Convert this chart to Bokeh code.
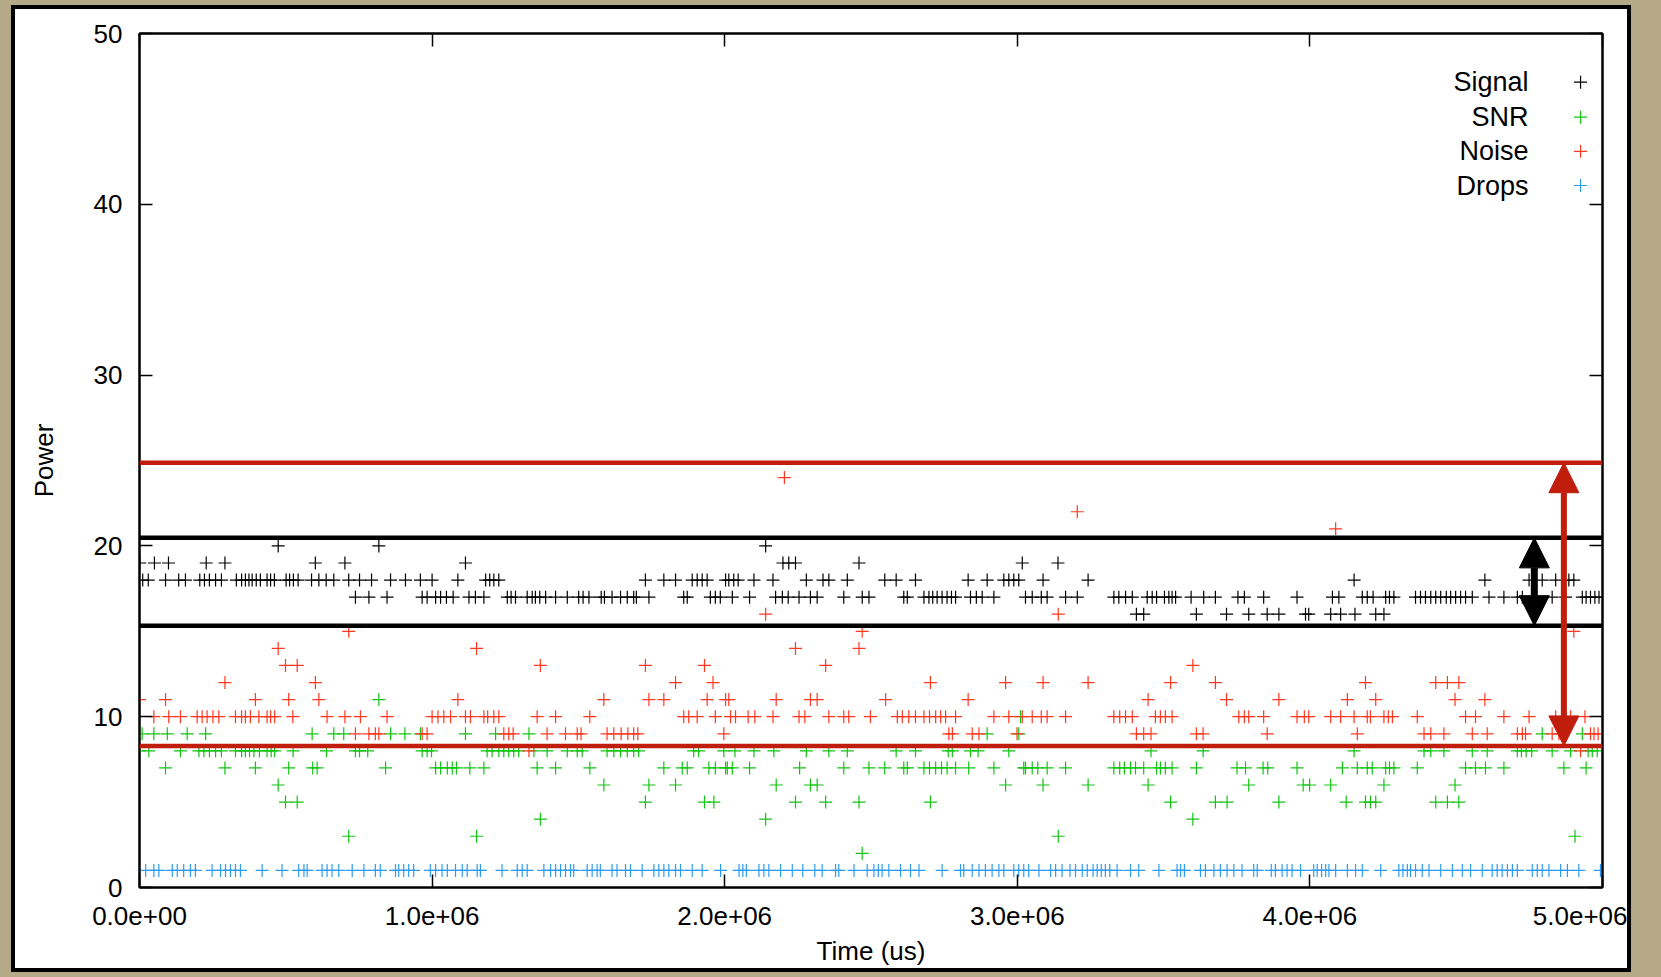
from bokeh.plotting import figure
from bokeh.models import (Range1d, LinearAxis, FixedTicker, Span, Arrow, NormalHead,
                          Label, ColumnDataSource)
from bokeh.embed import file_html
from bokeh.resources import INLINE

# ---------------- data (time in ms, converted to us for the axis) ----------------
signal_time_ms = [1, 11, 30, 51, 89, 99, 134, 157, 206, 222, 228, 239, 260, 280, 292, 331, 349, 362, 374, 385,
                  399, 413, 436, 448, 461, 474, 501, 513, 526, 542, 588, 601, 613, 638, 664, 702, 715, 738, 752,
                  784, 793, 818, 846, 858, 909, 960, 966, 983, 1000,
                  1012, 1029, 1049, 1072, 1088, 1114, 1126, 1148, 1177, 1183, 1197, 1211, 1228, 1257, 1270, 1285,
                  1325, 1342, 1353, 1368, 1388, 1422, 1462, 1501, 1516, 1536, 1578, 1589, 1615, 1644, 1667, 1689,
                  1698, 1729, 1741, 1792, 1832, 1860, 1872, 1889, 1906, 1923, 1940, 1951, 1968, 1985, 2003,
                  2014, 2026, 2031, 2046, 2085, 2100, 2140, 2165, 2174, 2197, 2199, 2217, 2219, 2242, 2254, 2279,
                  2293, 2316, 2336, 2356, 2407, 2419, 2459, 2470, 2493, 2547, 2586, 2612, 2624, 2652, 2681, 2698,
                  2711, 2726, 2743, 2760, 2775, 2789, 2832, 2840, 2860, 2880, 2897, 2920, 2954, 2971, 2988, 3005,
                  3017, 3028, 3051, 3082, 3088, 3102, 3139, 3165, 3205, 3242, 3330, 3347, 3370, 3393, 3407, 3432,
                  3444, 3461, 3476, 3503, 3518, 3529, 3541, 3594, 3612, 3637, 3677, 3715, 3754, 3776, 3791, 3842,
                  3854, 3894, 3956, 3985, 3996,
                  4071, 4077, 4099, 4105, 4151, 4154, 4179, 4196, 4216, 4225, 4253, 4259, 4272, 4287, 4361, 4378,
                  4395, 4413, 4430, 4447, 4466, 4481, 4498, 4515, 4532, 4555, 4598, 4612, 4663, 4709, 4726, 4749,
                  4794, 4828, 4840, 4874, 4885, 4902, 4931, 4944, 4959, 4974, 4988]
signal_power = [19, 18, 18, 19, 18, 19, 18, 18, 18, 18, 19, 18, 18, 18, 19, 18, 18, 18, 18, 18,
                18, 18, 18, 18, 18, 20, 18, 18, 18, 18, 18, 19, 18, 18, 18, 19, 18, 17, 18,
                17, 18, 20, 17, 18, 18, 18, 17, 17, 18,
                17, 17, 17, 17, 18, 19, 17, 17, 17, 18, 18, 18, 18, 17, 17, 17,
                17, 17, 17, 17, 17, 17, 17, 17, 17, 17, 17, 17, 17, 17, 17, 17,
                17, 18, 17, 18, 18, 17, 17, 18, 18, 18, 18, 17, 17, 17, 18,
                18, 17, 18, 18, 17, 18, 20, 18, 17, 17, 19, 17, 19, 19, 17, 18,
                17, 17, 18, 18, 17, 18, 19, 17, 17, 18, 18, 17, 17, 18, 17, 17,
                17, 17, 17, 17, 17, 17, 18, 17, 17, 17, 18, 17, 18, 18, 18, 18,
                19, 17, 17, 17, 18, 17, 19, 17, 17, 18, 17, 17, 17, 17, 16, 16,
                17, 17, 17, 17, 17, 17, 17, 17, 16, 17, 17, 16, 17, 17, 16, 17,
                16, 16, 17, 16, 16,
                16, 17, 17, 16, 18, 16, 17, 17, 17, 16, 16, 17, 17, 17, 17, 17,
                17, 17, 17, 17, 17, 17, 17, 17, 17, 17, 18, 17, 17, 17, 17, 18,
                18, 17, 18, 17, 18, 18, 17, 17, 17, 17, 17]

snr_time_ms = [0, 9, 32, 49, 89, 95, 140, 163, 203, 220, 226, 239, 260, 280, 292, 328, 349, 362, 376, 391,
               396, 410, 436, 450, 462, 474, 499, 510, 525, 539, 590, 592, 607, 639, 664, 698, 715, 738, 752,
               780, 818, 841, 858, 907, 960, 966, 983, 998,
               1012, 1029, 1052, 1069, 1083, 1114, 1129, 1152, 1177, 1188, 1205, 1217, 1228, 1245, 1262, 1279,
               1296, 1331, 1348, 1359, 1370, 1393, 1422, 1462, 1496, 1513, 1539, 1587, 1598, 1621, 1644, 1667,
               1689, 1706, 1729, 1741, 1792, 1832, 1855, 1872, 1894, 1911, 1931, 1946, 1963, 1968, 1997, 2003,
               2009, 2026, 2035, 2085, 2100, 2140, 2168, 2176, 2242, 2256, 2279, 2293, 2316, 2345, 2356, 2407,
               2419, 2459, 2470, 2493, 2547, 2586, 2612, 2624, 2652, 2681, 2700, 2703, 2721, 2741, 2760, 2764,
               2778, 2789, 2834, 2840, 2866, 2897, 2920, 2960, 2971, 3005, 3011, 3022,
               3028, 3051, 3070, 3088, 3102, 3140, 3165, 3242, 3330, 3350, 3366, 3387, 3404, 3432, 3447, 3457,
               3476, 3489, 3506, 3524, 3529, 3600, 3612, 3635, 3677, 3717, 3751, 3780, 3791, 3840, 3856, 3894,
               3956, 3977, 3999,
               4071, 4111, 4124, 4151, 4162, 4190, 4196, 4207, 4213, 4225, 4253, 4259, 4272, 4287, 4367, 4390,
               4413, 4430, 4458, 4470, 4496, 4509, 4532, 4555, 4566, 4600, 4606, 4663, 4709, 4723, 4739, 4758,
               4794, 4828, 4868, 4891, 4906, 4931, 4944, 4951, 4965, 4982]
snr_power = [8, 9, 8, 9, 7, 9, 8, 9, 8, 8, 9, 8, 8, 8, 7, 8, 8, 8, 8, 8,
             7, 8, 8, 8, 8, 6, 5, 7, 8, 5, 9, 7, 7, 8, 9, 9, 3, 8, 8,
             8, 11, 7, 9, 9, 9, 8, 8, 8,
             7, 7, 7, 7, 7, 9, 7, 3, 7, 8, 8, 9, 8, 8, 8, 8,
             8, 9, 8, 7, 4, 8, 7, 8, 8, 8, 7, 6, 8, 8, 8, 8,
             8, 8, 5, 6, 7, 6, 7, 7, 8, 8, 5, 7, 5, 7, 8, 7,
             7, 7, 8, 7, 8, 4, 8, 6, 5, 7, 8, 6, 6, 5, 8, 7,
             8, 5, 2, 7, 7, 8, 7, 7, 8, 7, 7, 5, 7, 7, 7, 8,
             8, 7, 7, 8, 8, 9, 7, 6, 8, 9, 10, 7,
             7, 7, 7, 6, 7, 3, 7, 6, 7, 7, 7, 7, 7, 7, 6, 8,
             7, 7, 7, 5, 7, 4, 7, 8, 5, 5, 7, 7, 6, 7, 7, 5,
             7, 6, 6,
             6, 7, 5, 8, 7, 5, 7, 5, 7, 5, 6, 7, 7, 7, 7, 8,
             8, 5, 8, 5, 6, 5, 7, 8, 7, 7, 8, 7, 8, 8, 8, 8,
             9, 8, 7, 8, 3, 9, 7, 8, 8, 8]

noise_time_ms = [0, 49, 89, 100, 140, 197, 214, 231, 251, 271, 292, 328, 349, 362, 379, 396, 408, 436, 448, 462,
                 474, 499, 510, 524, 539, 601, 613, 641, 702, 715, 738, 755, 784, 806, 818, 846, 966, 983, 1000,
                 1020, 1040, 1063, 1088, 1114, 1131, 1152, 1177, 1190, 1211, 1228, 1245, 1262, 1277, 1331, 1359,
                 1370, 1393, 1422, 1456, 1496, 1509, 1539, 1587, 1598, 1621, 1646, 1669, 1689, 1703, 1729, 1741,
                 1792, 1832, 1860, 1877, 1906, 1931, 1940, 1960, 1968, 1997, 2003,
                 2014, 2020, 2037, 2080, 2103, 2140, 2165, 2176, 2204, 2242, 2254, 2274, 2293, 2316, 2345, 2356,
                 2407, 2424, 2459, 2470, 2498, 2550, 2590, 2607, 2629, 2652, 2681, 2700, 2703, 2721, 2738, 2755,
                 2766, 2778, 2789, 2832, 2846, 2869, 2920, 2960, 2971, 2999,
                 3017, 3051, 3082, 3088, 3102, 3140, 3165, 3205, 3242, 3330, 3350, 3370, 3393, 3407, 3432, 3447,
                 3457, 3472, 3489, 3506, 3524, 3529, 3600, 3612, 3635, 3677, 3715, 3757, 3776, 3791, 3842, 3854,
                 3894, 3956, 3981, 3996,
                 4071, 4088, 4105, 4128, 4151, 4162, 4190, 4196, 4207, 4225, 4253, 4268, 4282, 4367, 4390, 4413,
                 4430, 4458, 4470, 4496, 4509, 4532, 4555, 4566, 4598, 4606, 4663, 4709, 4726, 4737, 4749, 4828,
                 4840, 4851, 4891, 4902, 4925, 4940, 4959, 4971, 4985]
noise_power = [11, 10, 11, 10, 10, 10, 10, 10, 10, 10, 12, 10, 10, 10, 10, 11, 10, 10, 10, 10,
               14, 13, 11, 10, 13, 12, 11, 10, 10, 15, 9, 10, 9, 9, 9, 10, 9, 9, 10,
               10, 10, 10, 11, 10, 10, 14, 10, 10, 10, 10, 9, 9, 9, 8, 10,
               13, 9, 10, 9, 9, 9, 10, 11, 9, 9, 9, 9, 9, 9, 13, 11,
               11, 12, 10, 10, 10, 13, 11, 12, 10, 9, 11,
               11, 10, 10, 10, 10, 16, 10, 11, 24, 14, 10, 10, 11, 11, 13, 10,
               10, 10, 14, 15, 10, 11, 10, 10, 10, 10, 10, 10, 12, 10, 10, 10,
               9, 9, 10, 11, 9, 9, 10, 12, 10, 9,
               10, 10, 10, 12, 10, 16, 10, 22, 12, 10, 10, 10, 10, 9, 9, 11,
               9, 10, 10, 10, 12, 10, 13, 9, 9, 12, 11, 10, 10, 10, 10, 9,
               11, 10, 10, 10,
               10, 21, 10, 11, 10, 9, 12, 10, 10, 11, 10, 10, 10, 10, 9, 9,
               12, 9, 12, 11, 12, 10, 9, 10, 11, 9, 10, 9, 9, 9, 10, 9,
               10, 9, 10, 15, 8, 10, 9, 9, 9]

drops_time_ms = [21, 49, 66, 112, 129, 151, 174, 191, 248, 277, 294, 311, 328, 345, 419, 487, 544, 562, 573,
                 624, 641, 658, 681, 727, 767, 806, 823, 875, 886, 903, 920, 937, 994,
                 1012, 1034, 1052, 1080, 1103, 1120, 1154, 1165, 1239, 1291, 1308, 1325, 1382, 1405, 1422, 1439,
                 1456, 1473, 1484, 1530, 1547, 1564, 1575, 1615, 1632, 1661, 1678, 1718, 1758, 1775, 1792, 1809,
                 1832, 1849, 1889, 1923, 1986,
                 2049, 2062, 2074, 2117, 2134, 2151, 2191, 2231, 2267, 2308, 2333, 2379, 2390, 2442, 2487, 2510,
                 2525, 2538, 2561, 2601, 2635, 2664, 2743, 2806, 2817, 2846, 2869, 2891, 2914, 2937, 2954, 2988,
                 3005,
                 3022, 3039, 3074, 3114, 3131, 3153, 3180, 3199, 3222, 3239, 3259, 3273, 3287, 3301, 3316, 3341,
                 3387, 3415, 3484, 3546, 3558, 3571, 3626, 3643, 3672, 3694, 3717, 3740, 3768, 3808, 3820, 3868,
                 3882, 3905, 3922, 3939, 3968, 4013,
                 4025, 4040, 4054, 4065, 4088, 4128, 4156, 4179, 4242, 4304, 4318, 4333, 4344, 4361, 4384, 4407,
                 4447, 4487, 4521, 4549, 4589, 4623, 4640, 4657, 4675, 4692, 4709, 4760, 4777, 4794, 4817, 4857,
                 4880, 4919, 4993]
drops_count = [1, 1, 1, 1, 1, 1, 1, 1, 1, 1, 1, 1, 1, 1, 1, 1, 1, 1, 1,
               1, 1, 1, 1, 1, 1, 1, 1, 1, 1, 1, 1, 1, 1,
               1, 1, 1, 1, 1, 1, 1, 1, 1, 1, 1, 1, 1, 1, 1, 1,
               1, 1, 1, 1, 1, 1, 1, 1, 1, 1, 1, 1, 1, 1, 1, 1,
               1, 1, 1, 1, 1,
               1, 1, 1, 1, 1, 1, 1, 1, 1, 1, 1, 1, 1, 1, 1, 1,
               1, 1, 1, 1, 1, 1, 1, 1, 1, 1, 1, 1, 1, 1, 1, 1,
               1,
               1, 1, 1, 1, 1, 1, 1, 1, 1, 1, 1, 1, 1, 1, 1, 1,
               1, 1, 1, 1, 1, 1, 1, 1, 1, 1, 1, 1, 1, 1, 1, 1,
               1, 1, 1, 1, 1, 1,
               1, 1, 1, 1, 1, 1, 1, 1, 1, 1, 1, 1, 1, 1, 1, 1,
               1, 1, 1, 1, 1, 1, 1, 1, 1, 1, 1, 1, 1, 1, 1, 1,
               1, 1, 1]

series_names = ["Signal", "SNR", "Noise", "Drops"]

x_ticks = [0, 1000000, 2000000, 3000000, 4000000, 5000000]
x_tick_labels = ["0.0e+00", "1.0e+06", "2.0e+06", "3.0e+06", "4.0e+06", "5.0e+06"]
y_ticks = [0, 10, 20, 30, 40, 50]

# annotation levels drawn on the picture (power units)
noise_band = [8.29, 24.87]
signal_band = [15.33, 20.47]
noise_arrow_time_us = 4868000
signal_arrow_time_us = 4767000

# ---------------- style ----------------
FONT = "Liberation Sans"
TAN = "#b6a988"
C_SIG = "#000000"
C_SNR = "#12c412"
C_NOI = "#ff3820"
C_DRP = "#2b9cf4"
C_ANN = "#c01d0c"

# the canvas is the white sheet; the black frame and tan surround are CSS shadows
W, H = 1612, 959
p = figure(width=W, height=H, output_backend="svg", toolbar_location=None,
           x_range=Range1d(0, 5000000), y_range=Range1d(0, 50),
           x_axis_type=None, y_axis_type=None,
           min_border_left=124, min_border_right=25, min_border_top=24, min_border_bottom=81)
p.styles = {"position": "relative", "left": "15px", "top": "9px",
            "box-shadow": "0 0 0 4px #000000, 0 0 0 90px " + TAN}
p.border_fill_color = "white"
p.background_fill_color = "white"
p.outline_line_color = "black"
p.outline_line_width = 2


def styled_axis(ticks, show_labels, standoff=12):
    ax = LinearAxis(ticker=FixedTicker(ticks=ticks))
    ax.major_tick_in = 13
    ax.major_tick_out = 0
    ax.minor_tick_line_color = None
    ax.axis_line_width = 2
    ax.major_tick_line_width = 1.5
    ax.major_label_text_font = FONT
    ax.major_label_text_font_size = "26px"
    if show_labels:
        ax.major_label_text_color = "black"
        ax.major_label_standoff = standoff
    else:
        ax.major_label_text_color = None
        ax.major_label_standoff = 0
    return ax


xb = styled_axis(x_ticks, True, 19)
xb.major_label_overrides = {float(t): lab for t, lab in zip(x_ticks, x_tick_labels)}
xb.axis_label = "Time (us)"
xb.axis_label_text_font = FONT
xb.axis_label_text_font_size = "26px"
xb.axis_label_text_font_style = "normal"
xb.axis_label_text_color = "black"
xb.axis_label_standoff = 8
p.add_layout(xb, "below")

yl = styled_axis(y_ticks, True, 17)
yl.axis_label = "Power"
yl.axis_label_text_font = FONT
yl.axis_label_text_font_size = "26px"
yl.axis_label_text_font_style = "normal"
yl.axis_label_text_color = "black"
yl.axis_label_standoff = 32
p.add_layout(yl, "left")

p.add_layout(styled_axis(x_ticks, False), "above")
p.add_layout(styled_axis(y_ticks, False), "right")

series = [
    (signal_time_ms, signal_power, C_SIG),
    (snr_time_ms, snr_power, C_SNR),
    (noise_time_ms, noise_power, C_NOI),
    (drops_time_ms, drops_count, C_DRP),
]
for t_ms, vals, col in series:
    src = ColumnDataSource(dict(t=[v * 1000 for v in t_ms], v=vals))
    p.scatter("t", "v", source=src, marker="cross", size=13, line_color=col, line_width=1.2)

# band lines
for lvl in noise_band:
    p.add_layout(Span(location=lvl, dimension="width", line_color=C_ANN, line_width=4.5))
for lvl in signal_band:
    p.add_layout(Span(location=lvl, dimension="width", line_color="black", line_width=4.5))

# double arrows
p.add_layout(Arrow(start=NormalHead(size=30, fill_color="black", line_color="black"),
                   end=NormalHead(size=30, fill_color="black", line_color="black"),
                   x_start=signal_arrow_time_us, y_start=signal_band[0],
                   x_end=signal_arrow_time_us, y_end=signal_band[1],
                   line_color="black", line_width=7))
p.add_layout(Arrow(start=NormalHead(size=30, fill_color=C_ANN, line_color=C_ANN),
                   end=NormalHead(size=30, fill_color=C_ANN, line_color=C_ANN),
                   x_start=noise_arrow_time_us, y_start=noise_band[0],
                   x_end=noise_arrow_time_us, y_end=noise_band[1],
                   line_color=C_ANN, line_width=6))

# legend (text right-aligned, marker to the right, gnuplot style)
legend_rows = [47.15, 45.1, 43.1, 41.1]
legend_cols = [C_SIG, C_SNR, C_NOI, C_DRP]
for name, yy in zip(series_names, legend_rows):
    p.add_layout(Label(x=4747000, y=yy, text=name, text_align="right", text_baseline="middle",
                       text_font=FONT, text_font_size="27px", text_color="black"))
leg_src = ColumnDataSource(dict(x=[4925000] * 4, y=legend_rows, c=legend_cols))
p.scatter("x", "y", source=leg_src, marker="cross", size=13, line_color="c", line_width=1.2)

open("out.html", "w").write(file_html(p, INLINE))
